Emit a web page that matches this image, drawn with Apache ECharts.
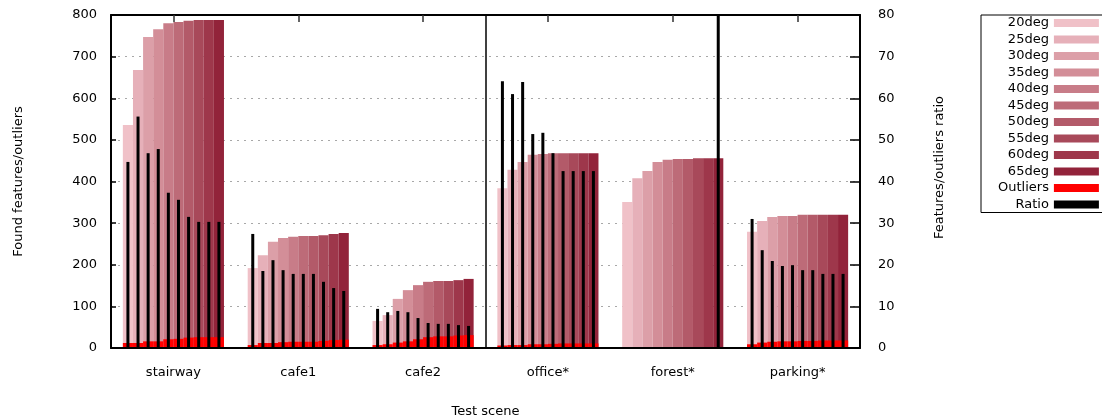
<!DOCTYPE html>
<html>
<head>
<meta charset="utf-8">
<script src="https://cdn.jsdelivr.net/npm/echarts@6/dist/echarts.min.js"></script>
<style>
  html, body { margin: 0; padding: 0; background: #fff; }
  #chart { width: 1102px; height: 418px; }
</style>
</head>
<body>
<div id="chart"></div>
<script>
const scenes = ['stairway', 'cafe1', 'cafe2', 'office*', 'forest*', 'parking*']
const angles = ['20deg', '25deg', '30deg', '35deg', '40deg', '45deg', '50deg', '55deg', '60deg', '65deg']
// the starred scenes are split off from the rest by a vertical rule
const lastPlainScene = 'cafe2'

// one row per scene, one value per angle
const features = [
  [536, 668, 747, 766, 780, 783, 786, 788, 788, 788],
  [192, 223, 255, 264, 267, 269, 269, 271, 274, 276],
  [65, 79, 118, 139, 151, 159, 161, 161, 163, 166],
  [384, 428, 447, 464, 466, 468, 468, 468, 468, 468],
  [351, 408, 425, 447, 452, 454, 454, 456, 456, 456],
  [279, 305, 315, 317, 317, 320, 320, 320, 320, 320]
]
const outliers = [
  [12, 12, 16, 16, 21, 22, 25, 26, 26, 26],
  [7, 12, 12, 14, 15, 15, 15, 17, 19, 20],
  [7, 9, 13, 16, 21, 26, 28, 28, 30, 31],
  [6, 7, 7, 9, 9, 10, 11, 11, 11, 11],
  [0, 0, 0, 0, 0, 0, 0, 0, 0, 0],
  [9, 13, 15, 16, 16, 17, 17, 18, 18, 18]
]
const ratios = [
  [44.7, 55.6, 46.8, 47.8, 37.3, 35.6, 31.5, 30.3, 30.3, 30.3],
  [27.4, 18.5, 21.1, 18.7, 17.8, 17.8, 17.8, 15.9, 14.4, 13.7],
  [9.4, 8.6, 8.9, 8.6, 7.2, 6.0, 5.8, 5.8, 5.5, 5.3],
  [64.1, 61.0, 63.9, 51.4, 51.7, 46.8, 42.5, 42.5, 42.5, 42.5],
  [null, null, null, null, null, null, null, null, null, 95],
  [31.0, 23.5, 20.9, 19.7, 19.9, 18.7, 18.7, 17.8, 17.8, 17.8]
]

const angleColors = ['#f0c1c8', '#e6b0b9', '#dc9fa8', '#d38e98', '#c87c88', '#bd6b78', '#b35a69', '#a8495a', '#9e374b', '#92233a']
const font = 'DejaVu Sans'

const chart = echarts.init(document.getElementById('chart'))

const series = []
angles.forEach((name, k) => {
  series.push({
    name: name,
    type: 'bar',
    xAxisIndex: 0,
    yAxisIndex: 0,
    barGap: 0,
    barCategoryGap: '19%',
    itemStyle: { color: angleColors[k] },
    data: features.map(row => row[k])
  })
})
angles.forEach((name, k) => {
  series.push({
    name: 'Outliers',
    type: 'bar',
    xAxisIndex: 1,
    yAxisIndex: 0,
    barGap: 0,
    barCategoryGap: '19%',
    itemStyle: { color: '#ff0000' },
    data: outliers.map(row => row[k])
  })
})
angles.forEach((name, k) => {
  series.push({
    name: 'Ratio',
    type: 'bar',
    xAxisIndex: 2,
    yAxisIndex: 1,
    barWidth: 3,
    barGap: '237%',
    clip: true,
    itemStyle: { color: '#000000' },
    data: ratios.map(row => row[k])
  })
})
// separator rule, placed on a linear twin of the scene axis (0..6)
series.push({
  name: 'separator',
  type: 'line',
  xAxisIndex: 4,
  yAxisIndex: 0,
  data: [],
  markLine: {
    silent: true,
    symbol: 'none',
    label: { show: false },
    lineStyle: { color: '#000', width: 1.5, type: 'solid' },
    data: [{ xAxis: scenes.indexOf(lastPlainScene) + 1 }]
  }
})

const hiddenX = { type: 'category', data: scenes, show: false, gridIndex: 0 }

chart.setOption({
  animation: false,
  textStyle: { fontFamily: font },
  grid: { left: 111, top: 15, width: 749, height: 333, outerBoundsMode: 'none' },
  legend: {
    orient: 'vertical',
    left: 981,
    top: 15,
    align: 'right',
    icon: 'rect',
    itemWidth: 45,
    itemHeight: 8,
    itemGap: 2.5,
    padding: [1, 5, 1, 17],
    borderColor: '#000',
    borderWidth: 1,
    selectedMode: false,
    textStyle: { fontFamily: font, fontSize: 13, color: '#000', lineHeight: 14 },
    data: angles.concat(['Outliers', 'Ratio'])
  },
  xAxis: [
    {
      type: 'category',
      data: scenes,
      position: 'bottom',
      z: 3,
      name: 'Test scene',
      nameLocation: 'middle',
      nameGap: 57,
      nameTextStyle: { fontFamily: font, fontSize: 13, color: '#000' },
      axisLine: { lineStyle: { color: '#000', width: 2 } },
      axisTick: { show: false },
      axisLabel: { margin: 18, fontFamily: font, fontSize: 13, color: '#000' },
      splitLine: { show: false }
    },
    hiddenX,
    hiddenX,
    {
      type: 'category',
      data: scenes,
      position: 'top',
      axisLine: { lineStyle: { color: '#000', width: 2 } },
      axisTick: { show: true, inside: true, alignWithLabel: true, length: 7, lineStyle: { color: '#333', width: 1.5 } },
      axisLabel: { show: false },
      splitLine: { show: false }
    },
    { type: 'value', min: 0, max: scenes.length, show: false, gridIndex: 0 }
  ],
  yAxis: [
    {
      type: 'value',
      position: 'left',
      min: 0,
      max: 800,
      interval: 100,
      name: 'Found features/outliers',
      nameLocation: 'middle',
      nameGap: 86,
      nameTextStyle: { fontFamily: font, fontSize: 13, color: '#000' },
      axisLine: { show: true, lineStyle: { color: '#000', width: 2 } },
      axisTick: { show: true, inside: true, length: 5, lineStyle: { color: '#000', width: 1.5 } },
      axisLabel: { margin: 14, fontFamily: font, fontSize: 13, color: '#000' },
      splitLine: { show: true, lineStyle: { color: '#a8a8a8', width: 1, type: [2, 5] } }
    },
    {
      type: 'value',
      position: 'right',
      min: 0,
      max: 80,
      interval: 10,
      name: 'Features/outliers ratio',
      nameLocation: 'middle',
      nameGap: 73,
      nameTextStyle: { fontFamily: font, fontSize: 13, color: '#000', padding: [0, 0, 0, 28] },
      axisLine: { show: true, lineStyle: { color: '#000', width: 2 } },
      axisTick: { show: true, inside: true, length: 10, lineStyle: { color: '#000', width: 1.5 } },
      axisLabel: { margin: 18, fontFamily: font, fontSize: 13, color: '#000' },
      splitLine: { show: false }
    }
  ],
  series: series
})
</script>
</body>
</html>
